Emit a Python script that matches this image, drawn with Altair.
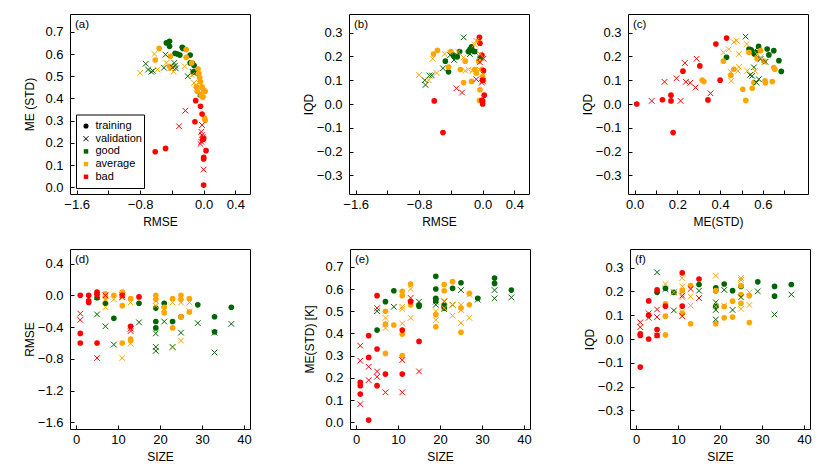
import altair as alt
import pandas as pd

# ---------------- data ----------------
# panel (a): x = RMSE, y = ME (STD)
A_TG = [(-0.47,0.650),(-0.43,0.657),(-0.43,0.635),(-0.36,0.603),(-0.33,0.600),(-0.30,0.595),(-0.27,0.630),(-0.26,0.625),(-0.17,0.595),(-0.17,0.560),(-0.14,0.558),(-0.12,0.548),(-0.13,0.520),(-0.04,0.415)]
A_VG = [(-0.73,0.556),(-0.70,0.530),(-0.66,0.520),(-0.64,0.524),(-0.48,0.597),(-0.50,0.538),(-0.39,0.538),(-0.37,0.560),(-0.36,0.548),(-0.35,0.535),(-0.20,0.500),(-0.14,0.520),(-0.12,0.512)]
A_TA = [(-0.56,0.625),(-0.61,0.573),(-0.42,0.540),(-0.43,0.545),(-0.42,0.590),(-0.22,0.620),(-0.22,0.585),(-0.15,0.560),(-0.07,0.532),(-0.06,0.512),(-0.05,0.493),(-0.04,0.475),(-0.02,0.452),(-0.09,0.452),(-0.08,0.432),(0.00,0.438),(0.02,0.432),(-0.01,0.405),(0.01,0.312),(0.02,0.302),(-0.03,0.412)]
A_VA = [(-0.80,0.515),(-0.62,0.600),(-0.58,0.530),(-0.47,0.560),(-0.42,0.535),(-0.38,0.520),(-0.24,0.545),(-0.15,0.505),(-0.12,0.470),(-0.10,0.460),(-0.08,0.445),(-0.04,0.440),(-0.02,0.420),(-0.05,0.420),(0.00,0.420),(-0.06,0.470)]
A_TB = [(-0.10,0.390),(-0.04,0.365),(-0.02,0.330),(-0.11,0.295),(-0.61,0.160),(-0.48,0.175),(0.00,0.220),(-0.01,0.215),(0.03,0.165),(0.00,0.135),(0.00,0.128),(0.00,0.010)]
A_VB = [(-0.23,0.345),(-0.31,0.275),(-0.02,0.280),(-0.03,0.250),(-0.02,0.235),(-0.01,0.225),(-0.04,0.195),(-0.01,0.215),(0.00,0.080),(-0.03,0.205)]

# panel (b): x = RMSE, y = IQD
B_TG = [(-0.47,0.180),(-0.43,0.135),(-0.37,0.205),(-0.35,0.200),(-0.32,0.198),(-0.29,0.220),(-0.18,0.220),(-0.16,0.230),(-0.14,0.240),(-0.13,0.225),(-0.10,0.220),(-0.03,0.195)]
B_VG = [(-0.73,0.100),(-0.72,0.080),(-0.67,0.120),(-0.64,0.120),(-0.50,0.150),(-0.41,0.205),(-0.36,0.185),(-0.24,0.280),(-0.16,0.210),(-0.10,0.220),(-0.03,0.195)]
B_TA = [(-0.62,0.210),(-0.57,0.225),(-0.43,0.155),(-0.40,0.220),(-0.28,0.145),(-0.24,0.090),(-0.22,0.180),(-0.14,0.095),(-0.10,0.145),(-0.08,0.130),(-0.055,0.265),(-0.034,0.060),(-0.04,0.015),(0.01,0.100),(-0.01,0.145),(0.00,0.115),(-0.05,0.180)]
B_VA = [(-0.80,0.122),(-0.68,0.100),(-0.63,0.190),(-0.58,0.130),(-0.48,0.210),(-0.31,0.220),(-0.24,0.195),(-0.22,0.140),(-0.18,0.145),(-0.13,0.140),(-0.10,0.250),(-0.08,0.265),(-0.04,0.145),(-0.03,0.210)]
B_TB = [(-0.61,0.013),(-0.50,-0.120),(-0.04,0.280),(-0.034,0.255),(-0.01,0.205),(0.01,0.140),(0.02,0.037),(-0.01,0.015),(0.00,0.000),(0.00,0.013),(0.00,0.100)]
B_VB = [(-0.33,0.066),(-0.26,0.048),(-0.08,0.104),(-0.034,0.175),(-0.01,0.090),(0.00,0.097),(0.01,0.190)]

# panel (c): x = ME(STD), y = IQD
C_TG = [(0.43,0.196),(0.535,0.231),(0.545,0.227),(0.566,0.217),(0.58,0.242),(0.62,0.231),(0.628,0.206),(0.651,0.224),(0.675,0.182),(0.686,0.137),(0.56,0.210)]
C_VG = [(0.519,0.283),(0.54,0.122),(0.55,0.118),(0.558,0.154),(0.57,0.090),(0.581,0.104),(0.573,0.210),(0.589,0.189),(0.612,0.177),(0.56,0.224)]
C_TA = [(0.316,0.100),(0.324,0.094),(0.415,0.180),(0.45,0.120),(0.464,0.146),(0.506,0.062),(0.52,0.015),(0.55,0.066),(0.558,0.090),(0.535,0.217),(0.573,0.190),(0.589,0.224),(0.61,0.097),(0.612,0.089),(0.644,0.094),(0.651,0.153),(0.656,0.146),(0.605,0.180)]
C_VA = [(0.415,0.217),(0.44,0.230),(0.464,0.260),(0.477,0.266),(0.488,0.210),(0.483,0.139),(0.488,0.156),(0.452,0.097),(0.449,0.135),(0.524,0.252),(0.527,0.139),(0.563,0.139),(0.573,0.210),(0.605,0.175),(0.589,0.196)]
C_TB = [(0.01,0.000),(0.13,0.018),(0.17,0.013),(0.17,0.037),(0.18,-0.120),(0.226,0.138),(0.305,0.160),(0.343,0.017),(0.38,0.252),(0.40,0.100),(0.43,0.277)]
C_VB = [(0.08,0.013),(0.14,0.093),(0.196,0.108),(0.215,0.013),(0.235,0.172),(0.24,0.093),(0.26,0.089),(0.285,0.069),(0.29,0.190),(0.355,0.045)]

# panel (d): x = SIZE, y = RMSE
D_TG = [(5,-0.03),(7,-0.10),(9,-0.29),(15,-0.10),(19,-0.16),(19,-0.33),(19,-0.41),(21,-0.10),(23,-0.33),(25,-0.27),(29,-0.12),(33,-0.27),(33,-0.46),(37,-0.15)]
D_VG = [(5,-0.24),(7,-0.39),(9,-0.62),(15,-0.34),(19,-0.48),(19,-0.65),(19,-0.70),(21,-0.33),(23,-0.65),(25,-0.47),(29,-0.35),(33,-0.47),(33,-0.72),(37,-0.36)]
D_TA = [(7,0.02),(7,-0.02),(9,0.0),(11,0.04),(11,-0.13),(11,-0.60),(13,-0.04),(13,-0.55),(13,-0.57),(19,0.0),(19,-0.05),(21,-0.15),(21,-0.22),(23,-0.04),(23,-0.41),(25,0.0),(25,-0.05),(25,-0.27),(27,-0.04),(27,-0.21)]
D_VA = [(7,-0.05),(7,-0.15),(9,-0.05),(11,-0.03),(11,-0.79),(13,-0.09),(13,-0.61),(19,-0.07),(19,-0.13),(21,-0.17),(23,-0.09),(23,-0.66),(25,-0.09),(25,-0.57),(27,-0.09),(27,-0.20)]
D_TB = [(1,0.0),(1,-0.48),(1,-0.60),(3,0.0),(3,-0.07),(3,-0.09),(5,0.04),(5,0.01),(5,-0.60),(11,0.0),(13,-0.39),(15,-0.02)]
D_VB = [(1,-0.23),(1,-0.31),(5,-0.79),(7,0.0),(11,0.0),(11,-0.02),(13,-0.45),(13,-0.42),(5,-0.02)]

# panel (e): x = SIZE, y = ME(STD) [K]
E_TG = [(5,0.415),(7,0.543),(9,0.592),(15,0.528),(15,0.522),(19,0.657),(19,0.600),(19,0.558),(19,0.547),(21,0.525),(21,0.514),(23,0.603),(25,0.628),(29,0.558),(33,0.649),(33,0.625),(37,0.595)]
E_VG = [(5,0.500),(9,0.520),(15,0.543),(19,0.543),(19,0.529),(21,0.544),(21,0.510),(23,0.529),(25,0.595),(29,0.552),(33,0.595),(33,0.558),(37,0.562)]
E_TA = [(7,0.500),(7,0.442),(7,0.310),(9,0.438),(11,0.590),(11,0.570),(11,0.397),(11,0.300),(13,0.622),(13,0.528),(19,0.484),(19,0.430),(21,0.620),(21,0.592),(23,0.633),(25,0.514),(25,0.405),(27,0.580),(27,0.529)]
E_VA = [(7,0.470),(7,0.440),(7,0.424),(11,0.520),(11,0.510),(11,0.445),(13,0.600),(13,0.470),(19,0.460),(19,0.500),(21,0.547),(21,0.514),(23,0.529),(23,0.480),(25,0.529),(25,0.505),(25,0.447),(27,0.574),(27,0.470)]
E_TB = [(1,0.180),(1,0.165),(1,0.127),(3,0.010),(3,0.390),(3,0.292),(5,0.570),(5,0.330),(5,0.165),(7,0.217),(11,0.415),(11,0.217),(13,0.543),(15,0.364)]
E_VB = [(1,0.345),(1,0.277),(1,0.082),(3,0.250),(3,0.190),(5,0.514),(5,0.229),(5,0.205),(7,0.135),(11,0.280),(11,0.135),(13,0.560),(15,0.229)]

# panel (f): x = SIZE, y = IQD
F_TG = [(5,0.196),(7,0.213),(9,0.196),(15,0.229),(19,0.215),(19,0.203),(19,0.136),(21,0.231),(23,0.203),(25,0.221),(29,0.240),(33,0.221),(33,0.180),(37,0.229)]
F_VG = [(5,0.280),(7,0.210),(9,0.196),(9,0.120),(15,0.203),(19,0.154),(19,0.122),(19,0.082),(21,0.206),(23,0.122),(25,0.175),(29,0.200),(33,0.103),(37,0.187)]
F_TA = [(7,0.148),(7,0.017),(7,0.096),(11,0.203),(11,0.108),(13,0.224),(13,0.064),(19,0.203),(19,0.064),(21,0.136),(21,0.089),(23,0.159),(23,0.092),(25,0.224),(25,0.187),(25,0.150),(27,0.182),(27,0.069)]
F_VA = [(7,0.231),(9,0.196),(11,0.256),(11,0.221),(11,0.175),(11,0.113),(13,0.178),(13,0.140),(19,0.266),(19,0.136),(21,0.140),(25,0.256),(25,0.248),(25,0.127),(27,0.196),(27,0.143)]
F_TB = [(1,0.022),(1,0.015),(1,-0.118),(3,0.160),(3,0.100),(3,0.000),(5,0.206),(5,0.040),(5,0.015),(7,0.138),(11,0.278),(11,0.138),(15,0.252)]
F_VB = [(1,0.070),(1,0.050),(3,0.108),(3,0.089),(5,0.124),(5,0.092),(5,0.015),(11,0.182),(11,0.096),(13,0.210),(15,0.172)]

CLASSES = ["good", "average", "bad"]
COLORS = ["#006400", "#FFA500", "#FF0000"]
LEGEND_LABELS = ["training", "validation", "good", "average", "bad"]

RMSE_DOM = [-1.684, 0.584]
ME_DOM = [-0.03, 0.78]
ME_X_DOM = [-0.031, 0.811]
IQD_DOM = [-0.378, 0.378]
SIZE_DOM = [-1.45, 41.45]

RMSE_X_LABELS = [-1.6, -0.8, 0.0, 0.4]
RMSE_X_TICKS = [-1.6, -1.2, -0.8, -0.4, 0.0, 0.4]
RMSE_Y_TICKS = [-1.6, -1.2, -0.8, -0.4, 0.0, 0.4]
ME_TICKS = [0.0, 0.1, 0.2, 0.3, 0.4, 0.5, 0.6, 0.7]
ME_X_LABELS = [0.0, 0.2, 0.4, 0.6]
IQD_TICKS = [-0.3, -0.2, -0.1, 0.0, 0.1, 0.2, 0.3]
SIZE_TICKS = [0, 10, 20, 30, 40]

W = H = 180
FONT = "Liberation Sans"
XSHAPE = "M-1,-1L1,1M-1,1L1,-1"
color_scale = alt.Scale(domain=CLASSES, range=COLORS)


def frame(series):
    rows = []
    for (sset, cls), pts in series.items():
        for x, y in pts:
            rows.append({"x": x, "y": y, "set": sset, "cls": cls})
    return pd.DataFrame(rows)


def panel(series, letter, xdom, ydom, xlab, xticks, ylab, yticks, xtitle, ytitle,
          xfmt=".1f", yfmt=".1f", legend=False):
    df = frame(series)
    xs = alt.Scale(domain=xdom, nice=False, zero=False)
    ys = alt.Scale(domain=ydom, nice=False, zero=False)
    xaxis = alt.Axis(values=xlab, format=xfmt, title=xtitle, ticks=False, domain=False,
                     grid=False, labelPadding=4, titleX=W / 2, titleY=27,
                     titleBaseline="middle", titleAlign="center")
    yaxis = alt.Axis(values=yticks, format=yfmt, title=ytitle, ticks=False, domain=False,
                     grid=False, labelPadding=7, titleX=-41, titleY=H / 2,
                     titleAngle=270, titleBaseline="middle", titleAlign="center")
    base_x = alt.X("x:Q", scale=xs, axis=xaxis)
    base_y = alt.Y("y:Q", scale=ys, axis=yaxis)
    train = alt.Chart(df[df["set"] == "training"]).mark_circle(size=32, opacity=1).encode(
        x=base_x, y=base_y,
        color=alt.Color("cls:N", scale=color_scale, legend=None))
    val = alt.Chart(df[df["set"] == "validation"]).mark_point(
        shape=XSHAPE, size=32, strokeWidth=1, filled=False, opacity=1).encode(
        x=base_x, y=base_y,
        color=alt.Color("cls:N", scale=color_scale, legend=None))
    lab = alt.Chart(pd.DataFrame({"t": [letter]})).mark_text(
        align="left", baseline="middle", fontSize=11.5, font=FONT, color="black").encode(
        x=alt.value(5), y=alt.value(10.5), text="t:N")
    layers = [train, val, lab]
    if legend:
        box = alt.Chart(pd.DataFrame({"k": [0]})).mark_rect(
            fill="white", stroke="black", strokeWidth=1).encode(
            x=alt.value(6.5), x2=alt.value(74.5), y=alt.value(101), y2=alt.value(174.5))
        layers.append(box)
        row_y = [112, 124.7, 137.4, 150.1, 162.8]
        syms = [("circle", "black", True, 26), (XSHAPE, "black", False, 26),
                ("square", COLORS[0], True, 20), ("square", COLORS[1], True, 20),
                ("square", COLORS[2], True, 20)]
        for lbl, yy, (shp, col, fil, sz) in zip(LEGEND_LABELS, row_y, syms):
            d1 = pd.DataFrame({"t": [lbl]})
            if fil:
                m = alt.Chart(d1).mark_point(shape=shp, filled=True, size=sz, color=col,
                                             opacity=1, strokeWidth=0)
            else:
                m = alt.Chart(d1).mark_point(shape=shp, filled=False, size=sz, color=col,
                                             opacity=1, strokeWidth=1)
            layers.append(m.encode(x=alt.value(16), y=alt.value(yy)))
            layers.append(alt.Chart(d1).mark_text(
                align="left", baseline="middle", fontSize=11, font=FONT, color="black").encode(
                x=alt.value(25.5), y=alt.value(yy), text="t:N"))
    inner = alt.layer(*layers)
    tick_layer = alt.Chart(df).mark_point(opacity=0).encode(
        x=alt.X("x:Q", scale=alt.Scale(domain=xdom, nice=False, zero=False),
                axis=alt.Axis(orient="top", offset=-H, values=xticks, labels=False,
                              title=None, domain=False, grid=False, ticks=True,
                              tickSize=4, tickColor="black", tickWidth=1)),
        y=alt.Y("y:Q", scale=alt.Scale(domain=ydom, nice=False, zero=False),
                axis=alt.Axis(orient="right", offset=-W, values=yticks, labels=False,
                              title=None, domain=False, grid=False, ticks=True,
                              tickSize=4, tickColor="black", tickWidth=1)))
    return alt.layer(inner, tick_layer).resolve_scale(x="independent", y="independent").properties(
        width=W, height=H)


pa = panel({("training", "good"): A_TG, ("validation", "good"): A_VG,
            ("training", "average"): A_TA, ("validation", "average"): A_VA,
            ("training", "bad"): A_TB, ("validation", "bad"): A_VB},
           "(a)", RMSE_DOM, ME_DOM, RMSE_X_LABELS, RMSE_X_TICKS, ME_TICKS, ME_TICKS,
           "RMSE", "ME (STD)", legend=True)
pb = panel({("training", "good"): B_TG, ("validation", "good"): B_VG,
            ("training", "average"): B_TA, ("validation", "average"): B_VA,
            ("training", "bad"): B_TB, ("validation", "bad"): B_VB},
           "(b)", RMSE_DOM, IQD_DOM, RMSE_X_LABELS, RMSE_X_TICKS, IQD_TICKS, IQD_TICKS,
           "RMSE", "IQD")
pc = panel({("training", "good"): C_TG, ("validation", "good"): C_VG,
            ("training", "average"): C_TA, ("validation", "average"): C_VA,
            ("training", "bad"): C_TB, ("validation", "bad"): C_VB},
           "(c)", ME_X_DOM, IQD_DOM, ME_X_LABELS, ME_TICKS, IQD_TICKS, IQD_TICKS,
           "ME(STD)", "IQD")
pd_ = panel({("training", "good"): D_TG, ("validation", "good"): D_VG,
             ("training", "average"): D_TA, ("validation", "average"): D_VA,
             ("training", "bad"): D_TB, ("validation", "bad"): D_VB},
            "(d)", SIZE_DOM, RMSE_DOM, SIZE_TICKS, SIZE_TICKS, RMSE_Y_TICKS, RMSE_Y_TICKS,
            "SIZE", "RMSE", xfmt="d")
pe = panel({("training", "good"): E_TG, ("validation", "good"): E_VG,
            ("training", "average"): E_TA, ("validation", "average"): E_VA,
            ("training", "bad"): E_TB, ("validation", "bad"): E_VB},
           "(e)", SIZE_DOM, ME_DOM, SIZE_TICKS, SIZE_TICKS, ME_TICKS, ME_TICKS,
           "SIZE", "ME(STD) [K]", xfmt="d")
pf = panel({("training", "good"): F_TG, ("validation", "good"): F_VG,
            ("training", "average"): F_TA, ("validation", "average"): F_VA,
            ("training", "bad"): F_TB, ("validation", "bad"): F_VB},
           "(f)", SIZE_DOM, IQD_DOM, SIZE_TICKS, SIZE_TICKS, IQD_TICKS, IQD_TICKS,
           "SIZE", "IQD", xfmt="d")

row1 = alt.hconcat(pa, pb, pc, spacing=50)
row2 = alt.hconcat(pd_, pe, pf, spacing=50)
chart = alt.vconcat(row1, row2, spacing=20).resolve_scale(x="independent", y="independent").properties(
    padding={"left": 14, "top": 5, "right": 5, "bottom": 5}
).configure(font=FONT, background="white").configure_view(
    stroke="black", strokeWidth=1
).configure_axis(
    labelFont=FONT, titleFont=FONT, labelFontSize=13, titleFontSize=12,
    titleFontWeight="normal", labelColor="black", titleColor="black"
)

chart.save("out.html", embed_options={"renderer": "svg", "actions": False})
